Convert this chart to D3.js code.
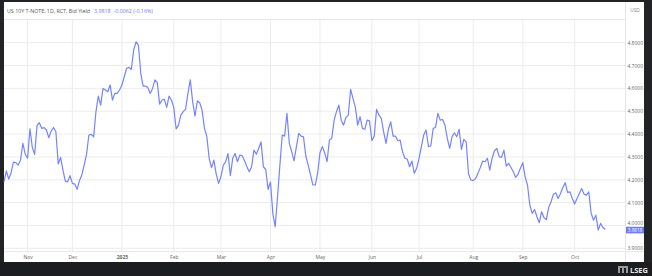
<!DOCTYPE html>
<html><head><meta charset="utf-8">
<script src="https://cdn.jsdelivr.net/npm/d3@7/dist/d3.min.js"></script>
<style>html,body{margin:0;padding:0;background:#222326;}svg{display:block;font-family:"Open Sans","DejaVu Sans",sans-serif;}</style>
</head><body><svg id="c" width="652" height="276"></svg>
<script>
const title = "US 10Y T-NOTE, 1D, RCT, Bid Yield";
const lastValue = "3.9818";
const change = "-0.0062 (-0.16%)";
const currency = "USD";
const monthLabels = ["Nov","Dec","2025","Feb","Mar","Apr","May","Jun","Jul","Aug","Sep","Oct"];
const monthIdx = [10,29,50,72,92,113,134,156,176,199,220,242];
const yTicks = [3.9,4.0,4.1,4.2,4.3,4.4,4.5,4.6,4.7,4.8];
const values = [
4.191,4.239,4.203,4.231,4.277,4.275,4.264,4.286,4.359,4.312,
4.294,4.423,4.342,4.311,4.437,4.450,4.425,4.428,4.418,4.384,
4.413,4.429,4.410,4.269,4.298,4.242,4.194,4.191,4.218,4.184,
4.181,4.158,4.196,4.221,4.264,4.311,4.396,4.399,4.388,4.498,
4.566,4.527,4.600,4.593,4.585,4.615,4.549,4.578,4.578,4.593,
4.615,4.651,4.688,4.692,4.683,4.768,4.804,4.790,4.666,4.610,
4.610,4.604,4.578,4.600,4.637,4.625,4.531,4.549,4.552,4.517,
4.566,4.549,4.517,4.423,4.439,4.483,4.498,4.508,4.578,4.637,
4.542,4.479,4.545,4.537,
4.505,4.425,4.391,4.294,4.253,4.286,4.225,4.184,4.213,4.264,
4.279,4.315,4.218,4.294,4.315,4.279,4.308,4.305,4.283,4.257,
4.235,4.257,4.330,4.312,4.337,4.366,4.257,4.245,4.158,4.191,
4.053,3.994,4.126,4.264,4.396,4.391,4.491,4.359,4.323,4.283,
4.345,4.403,4.391,4.388,4.304,4.264,4.221,4.177,4.177,4.228,
4.318,4.345,4.318,4.279,4.374,4.381,4.461,4.498,4.527,4.461,
4.439,4.473,4.483,4.596,4.556,4.517,4.439,4.476,4.425,4.421,
4.461,4.458,4.371,4.391,4.508,4.483,4.469,4.410,4.359,4.421,
4.454,4.391,4.391,4.371,
4.374,4.323,4.294,4.291,4.257,4.282,4.228,4.250,4.294,4.345,
4.396,4.418,4.345,4.348,4.425,4.429,4.491,4.461,4.464,4.439,
4.381,4.337,4.388,4.406,4.388,4.421,4.333,4.377,4.366,4.225,
4.199,4.196,4.206,4.228,4.254,4.282,4.279,4.294,4.242,4.294,
4.327,4.337,4.301,4.298,4.330,4.260,4.272,4.254,4.235,4.210,
4.225,4.250,4.275,4.213,4.177,4.089,4.053,4.070,4.038,4.012,
4.060,4.034,4.026,4.079,4.104,4.137,4.143,4.118,4.140,4.166,
4.187,4.145,4.147,4.118,4.094,4.118,4.140,4.162,4.137,4.133,
4.147,4.053,4.023,4.045,3.980,4.009,3.991,3.982
];

const svg = d3.select("#c");
const W = 652, H = 276;
const panel = {l:4, t:2, r:644, b:262};
const plot = {l:4, r:625, top:20, bottom:251.7};

svg.append("rect").attr("width",W).attr("height",H).attr("fill","#222326");
svg.append("rect").attr("x",0).attr("y",262).attr("width",W).attr("height",14).attr("fill","#1b1d21");
svg.append("rect").attr("x",panel.l).attr("y",panel.t).attr("width",panel.r-panel.l).attr("height",panel.b-panel.t).attr("fill","#ffffff");

const x = d3.scaleLinear().domain([0, values.length-1]).range([4, 605.3]);
const y = d3.scaleLinear().domain([3.9, 4.8]).range([248.3, 42.7]);

// grid
const g = svg.append("g");
g.selectAll("line.h").data(yTicks).join("line")
  .attr("x1",plot.l).attr("x2",plot.r).attr("y1",d=>y(d)).attr("y2",d=>y(d))
  .attr("stroke","#ececec").attr("stroke-width",1);
g.selectAll("line.v").data(monthIdx).join("line")
  .attr("x1",d=>x(d)).attr("x2",d=>x(d)).attr("y1",plot.top).attr("y2",plot.bottom)
  .attr("stroke","#ececec").attr("stroke-width",1);
svg.append("line").attr("x1",plot.l).attr("x2",plot.r).attr("y1",19.5).attr("y2",19.5).attr("stroke","#e6e6e6");
svg.append("line").attr("x1",plot.l).attr("x2",panel.r).attr("y1",plot.bottom).attr("y2",plot.bottom).attr("stroke","#e6e6e6");
svg.append("line").attr("x1",625.5).attr("x2",625.5).attr("y1",panel.t).attr("y2",panel.b).attr("stroke","#e6e6e6");

// line
svg.append("path").datum(values)
  .attr("d", d3.line().x((d,i)=>x(i)).y(d=>y(d)))
  .attr("fill","none").attr("stroke","#7584ff").attr("stroke-width",1.2)
  .attr("stroke-linejoin","round");

// y axis
const ya = svg.append("g").attr("transform","translate(644,0)")
  .call(d3.axisLeft(y).tickValues(yTicks).tickFormat(d3.format(".4f")).tickSize(0).tickPadding(1));
ya.select(".domain").remove();
ya.selectAll("text").attr("font-size",5).attr("fill","#666").attr("font-family","Open Sans, DejaVu Sans, sans-serif")
  .attr("dy",d=>d===4.0?"-0.1em":"0.32em");

// x axis
const xa = svg.append("g").attr("transform","translate(0,252)")
  .call(d3.axisBottom(x).tickValues(monthIdx).tickFormat((d,i)=>monthLabels[i]).tickSize(0).tickPadding(3));
xa.select(".domain").remove();
xa.selectAll("text").attr("font-size",5).attr("fill","#666").attr("font-family","Open Sans, DejaVu Sans, sans-serif")
  .attr("font-weight",(d,i)=>monthLabels[i]==="2025"?"bold":"normal");

// header
const ht = svg.append("text").attr("x",7).attr("y",13).attr("font-size",5.3).attr("fill","#555");
ht.append("tspan").text(title);
ht.append("tspan").attr("dx",4).attr("fill","#6f7cf0").text(lastValue);
ht.append("tspan").attr("dx",3).attr("fill","#6f7cf0").text(change);
svg.append("text").attr("x",635).attr("y",12).attr("text-anchor","middle").attr("font-size",4.8).attr("fill","#888").text(currency);

// last value tag
const lv = values[values.length-1];
svg.append("rect").attr("x",626).attr("y",y(lv)-2.8).attr("width",18).attr("height",6.6).attr("fill","#6f7cf7");
svg.append("text").attr("x",635).attr("y",y(lv)+2.2).attr("text-anchor","middle").attr("font-size",4.6).attr("fill","#fff").text(lastValue);

// footer logo
const lg = svg.append("g");
lg.append("rect").attr("x",618).attr("y",266).attr("width",10).attr("height",7).attr("fill","#9a9a9a");
lg.append("rect").attr("x",620).attr("y",268).attr("width",2).attr("height",5).attr("fill","#1b1d21");
lg.append("rect").attr("x",624).attr("y",268).attr("width",2).attr("height",5).attr("fill","#1b1d21");
lg.append("text").attr("x",630).attr("y",273).attr("font-size",7.5).attr("font-weight","bold").attr("fill","#e8e8e8").text("LSEG");
</script></body></html>
